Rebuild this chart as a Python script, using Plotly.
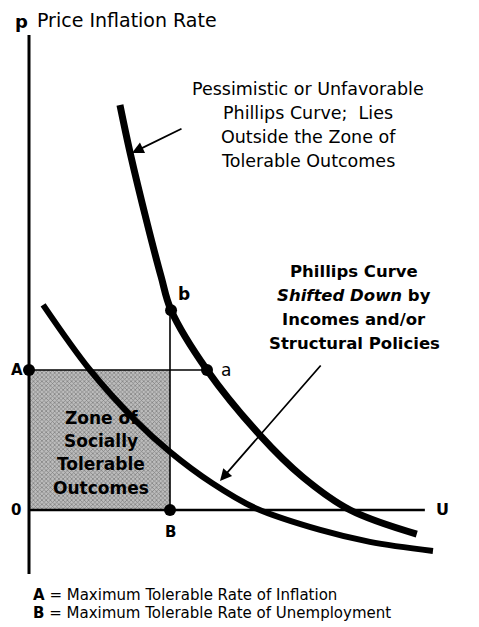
import plotly.graph_objects as go

# ---- data (economic units: U = unemployment, p = inflation) ----
A_MAX = 4.0          # maximum tolerable inflation
B_MAX = 4.0          # maximum tolerable unemployment

# pessimistic / unfavorable Phillips curve
pess_U = [2.58, 2.87, 3.35, 3.75, 4.03, 5.05, 6.55, 7.77, 9.11, 11.0]
pess_p = [11.57, 10.2, 8.2, 6.66, 5.71, 4.0, 2.14, 0.94, 0.0, -0.69]

# Phillips curve shifted down by incomes / structural policies
shift_U = [0.40, 1.73, 3.01, 4.0, 5.19, 6.41, 8.26, 9.67, 11.46]
shift_p = [5.86, 4.0, 2.57, 1.66, 0.77, 0.06, -0.57, -0.91, -1.17]

point_a = (5.05, 4.0)
point_b = (4.03, 5.71)

# axis extents
U_AXIS_END = 11.23
P_AXIS_TOP = 13.57
P_AXIS_BOTTOM = -1.83

# ---- layout mapping (page pixels) ----
W, H = 479, 627
PAGE_OFF = 8              # default body margin of the html page
X0, Y0 = 29, 510          # page pixel of origin
SX, SY = 35.25, 35.0      # pixels per unit
x_range = [(PAGE_OFF - X0) / SX, (PAGE_OFF + W - X0) / SX]
y_range = [(Y0 - PAGE_OFF - H) / SY, (Y0 - PAGE_OFF) / SY]


def px(x, y):
    """page pixel -> data coordinates for text placement"""
    return (x - X0) / SX, (Y0 - y) / SY


FONT = "DejaVu Sans, Liberation Sans, Arial"
fig = go.Figure()

# zone of socially tolerable outcomes
fig.add_trace(go.Scatter(
    x=[0, B_MAX, B_MAX, 0, 0], y=[0, 0, A_MAX, A_MAX, 0],
    mode="lines", fill="toself", line=dict(width=0),
    fillcolor="#a8a8a8",
    fillpattern=dict(shape="x", size=3, solidity=0.4,
                     fgcolor="#3a3a3a", bgcolor="#bdbdbd"),
    hoverinfo="skip", showlegend=False))

# thin guide lines A-a and B-b
fig.add_trace(go.Scatter(x=[0, point_a[0]], y=[A_MAX, A_MAX], mode="lines",
                         line=dict(color="black", width=1.6), showlegend=False))
fig.add_trace(go.Scatter(x=[B_MAX, B_MAX], y=[0, point_b[1]], mode="lines",
                         line=dict(color="black", width=1.6), showlegend=False))

# axes
fig.add_trace(go.Scatter(x=[0, 0], y=[P_AXIS_BOTTOM, P_AXIS_TOP], mode="lines",
                         line=dict(color="black", width=3), showlegend=False))
fig.add_trace(go.Scatter(x=[0, U_AXIS_END], y=[0, 0], mode="lines",
                         line=dict(color="black", width=2.5), showlegend=False))

# curves
fig.add_trace(go.Scatter(x=pess_U, y=pess_p, mode="lines",
                         line=dict(color="black", width=7, shape="spline", smoothing=1.0),
                         showlegend=False))
fig.add_trace(go.Scatter(x=shift_U, y=shift_p, mode="lines",
                         line=dict(color="black", width=6, shape="spline", smoothing=1.0),
                         showlegend=False))

# dots A, B, a, b
fig.add_trace(go.Scatter(
    x=[0, B_MAX, point_a[0], point_b[0]], y=[A_MAX, 0, point_a[1], point_b[1]],
    mode="markers", marker=dict(color="black", size=12), showlegend=False))

ann = []


def text(x, y, s, size, bold=False, xanchor="center"):
    dx, dy = px(x, y)
    ann.append(dict(x=dx, y=dy, xref="x", yref="y", text=s, showarrow=False,
                    xanchor=xanchor, yanchor="middle",
                    font=dict(family=FONT, size=size, color="black",
                              weight="bold" if bold else "normal")))


# title
text(13, 21, "p", 18, bold=True, xanchor="left")
text(35, 20, "Price Inflation Rate", 19, xanchor="left")

# pessimistic curve label
for (yy, line) in [(89, "Pessimistic or Unfavorable"), (113, "Phillips Curve;  Lies"),
                   (137, "Outside the Zone of"), (161, "Tolerable Outcomes")]:
    text(308, yy, line, 17.5)

# shifted curve label
for (yy, line) in [(271, "<b>Phillips Curve</b>"), (295, "<b><i>Shifted Down</i> by</b>"),
                   (319, "<b>Incomes and/or</b>"), (343, "<b>Structural Policies</b>")]:
    text(354, yy, line, 16.5)

# zone label
for (yy, line) in [(418, "Zone of"), (441, "Socially"), (464, "Tolerable"), (488, "Outcomes")]:
    text(101, yy, line, 17, bold=True)

# point labels
text(9, 370, "A", 15, bold=True, xanchor="left")
text(9, 510, "0", 15, bold=True, xanchor="left")
text(170, 532, "B", 15, bold=True)
text(442, 509, "U", 16, bold=True)
text(226, 370, "a", 17)
text(184, 294, "b", 17, bold=True)

# footer
text(31, 595, "<b>A</b> = Maximum Tolerable Rate of Inflation", 15, xanchor="left")
text(31, 613, "<b>B</b> = Maximum Tolerable Rate of Unemployment", 15, xanchor="left")

# arrows
for (tail, head) in [((183, 128), (132, 153)), ((322, 364), (220, 481))]:
    hx, hy = px(*head)
    tx, ty = px(*tail)
    ann.append(dict(x=hx, y=hy, ax=tx, ay=ty, xref="x", yref="y", axref="x", ayref="y",
                    text="", showarrow=True, arrowhead=2, arrowsize=1.3, arrowwidth=1.8,
                    arrowcolor="black"))

fig.update_layout(
    width=W, height=H, margin=dict(l=0, r=0, t=0, b=0),
    paper_bgcolor="white", plot_bgcolor="white",
    xaxis=dict(range=x_range, visible=False, fixedrange=True),
    yaxis=dict(range=y_range, visible=False, fixedrange=True),
    annotations=ann, showlegend=False)

fig.write_html("out.html")
